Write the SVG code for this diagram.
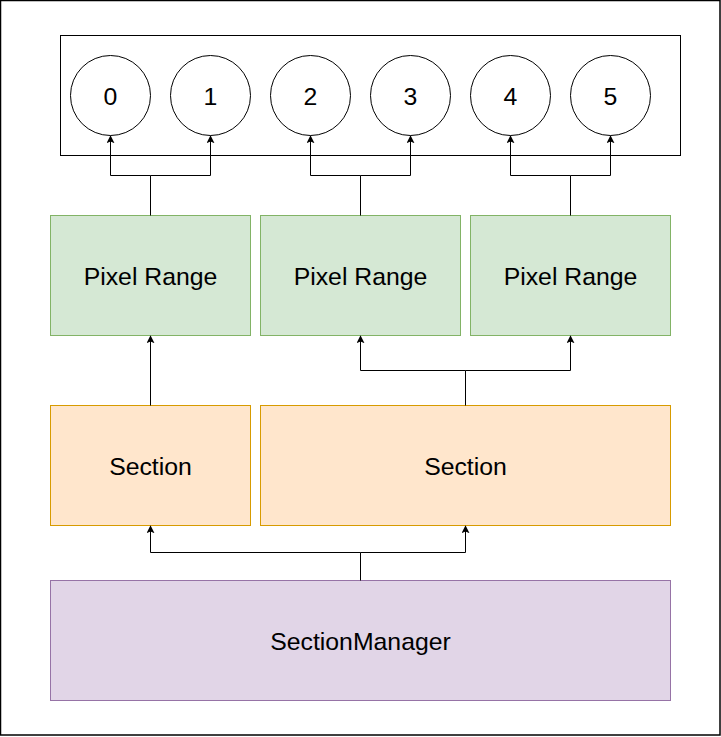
<svg xmlns="http://www.w3.org/2000/svg" width="721" height="737" viewBox="0 0 721 737">
<style>
text{font-family:"Liberation Sans",Arial,Helvetica,sans-serif;font-size:24.8px;fill:#000;text-anchor:middle}
.pr{fill:#d5e8d4;stroke:#82b366;stroke-width:1}
.sec{fill:#ffe6cc;stroke:#d79b00;stroke-width:1}
.mgr{fill:#e1d5e7;stroke:#9673a6;stroke-width:1}
.c{fill:#fff;stroke:#000;stroke-width:1}
.e{fill:none;stroke:#000;stroke-width:1}
</style>
<defs>
<marker id="ah" viewBox="0 0 10 10" refX="9" refY="5" markerWidth="8" markerHeight="8" markerUnits="userSpaceOnUse" orient="auto">
<path d="M0,0 L10,5 L0,10 L2,5 Z" fill="#000"/>
</marker>
</defs>
<rect x="0.5" y="0.5" width="719.5" height="734.5" fill="#fff" stroke="#000" stroke-width="1.5"/>
<g id="pixels">
<rect x="60.5" y="35.5" width="620" height="120" fill="#fff" stroke="#000" stroke-width="1"/>
</g>
<g id="p0"><circle class="c" cx="110.5" cy="95.5" r="40"/><text x="110.5" y="104.5">0</text></g>
<g id="p1"><circle class="c" cx="210.5" cy="95.5" r="40"/><text x="210.5" y="104.5">1</text></g>
<g id="p2"><circle class="c" cx="310.5" cy="95.5" r="40"/><text x="310.5" y="104.5">2</text></g>
<g id="p3"><circle class="c" cx="410.5" cy="95.5" r="40"/><text x="410.5" y="104.5">3</text></g>
<g id="p4"><circle class="c" cx="510.5" cy="95.5" r="40"/><text x="510.5" y="104.5">4</text></g>
<g id="p5"><circle class="c" cx="610.5" cy="95.5" r="40"/><text x="610.5" y="104.5">5</text></g>
<g id="range1"><rect class="pr" x="50.5" y="215.5" width="200" height="120"/><text x="150.5" y="284.5">Pixel Range</text></g>
<g id="range2"><rect class="pr" x="260.5" y="215.5" width="200" height="120"/><text x="360.5" y="284.5">Pixel Range</text></g>
<g id="range3"><rect class="pr" x="470.5" y="215.5" width="200" height="120"/><text x="570.5" y="284.5">Pixel Range</text></g>
<g id="section1"><rect class="sec" x="50.5" y="405.5" width="200" height="120"/><text x="150.5" y="474.5">Section</text></g>
<g id="section2"><rect class="sec" x="260.5" y="405.5" width="410" height="120"/><text x="465.5" y="474.5">Section</text></g>
<g id="manager"><rect class="mgr" x="50.5" y="580.5" width="620" height="120"/><text x="360.5" y="649.5">SectionManager</text></g>
<g id="connectors">
<path class="e" d="M150.5,215.5 V175.5 H110.5 V136" marker-end="url(#ah)"/>
<path class="e" d="M150.5,175.5 H210.5 V136" marker-end="url(#ah)"/>
<path class="e" d="M360.5,215.5 V175.5 H310.5 V136" marker-end="url(#ah)"/>
<path class="e" d="M360.5,175.5 H410.5 V136" marker-end="url(#ah)"/>
<path class="e" d="M570.5,215.5 V175.5 H510.5 V136" marker-end="url(#ah)"/>
<path class="e" d="M570.5,175.5 H610.5 V136" marker-end="url(#ah)"/>
<path class="e" d="M150.5,405.5 V336" marker-end="url(#ah)"/>
<path class="e" d="M465.5,405.5 V370.5 H360.5 V336" marker-end="url(#ah)"/>
<path class="e" d="M465.5,370.5 H570.5 V336" marker-end="url(#ah)"/>
<path class="e" d="M360.5,580.5 V552.5 H150.5 V526" marker-end="url(#ah)"/>
<path class="e" d="M360.5,552.5 H465.5 V526" marker-end="url(#ah)"/>
</g>
</svg>
